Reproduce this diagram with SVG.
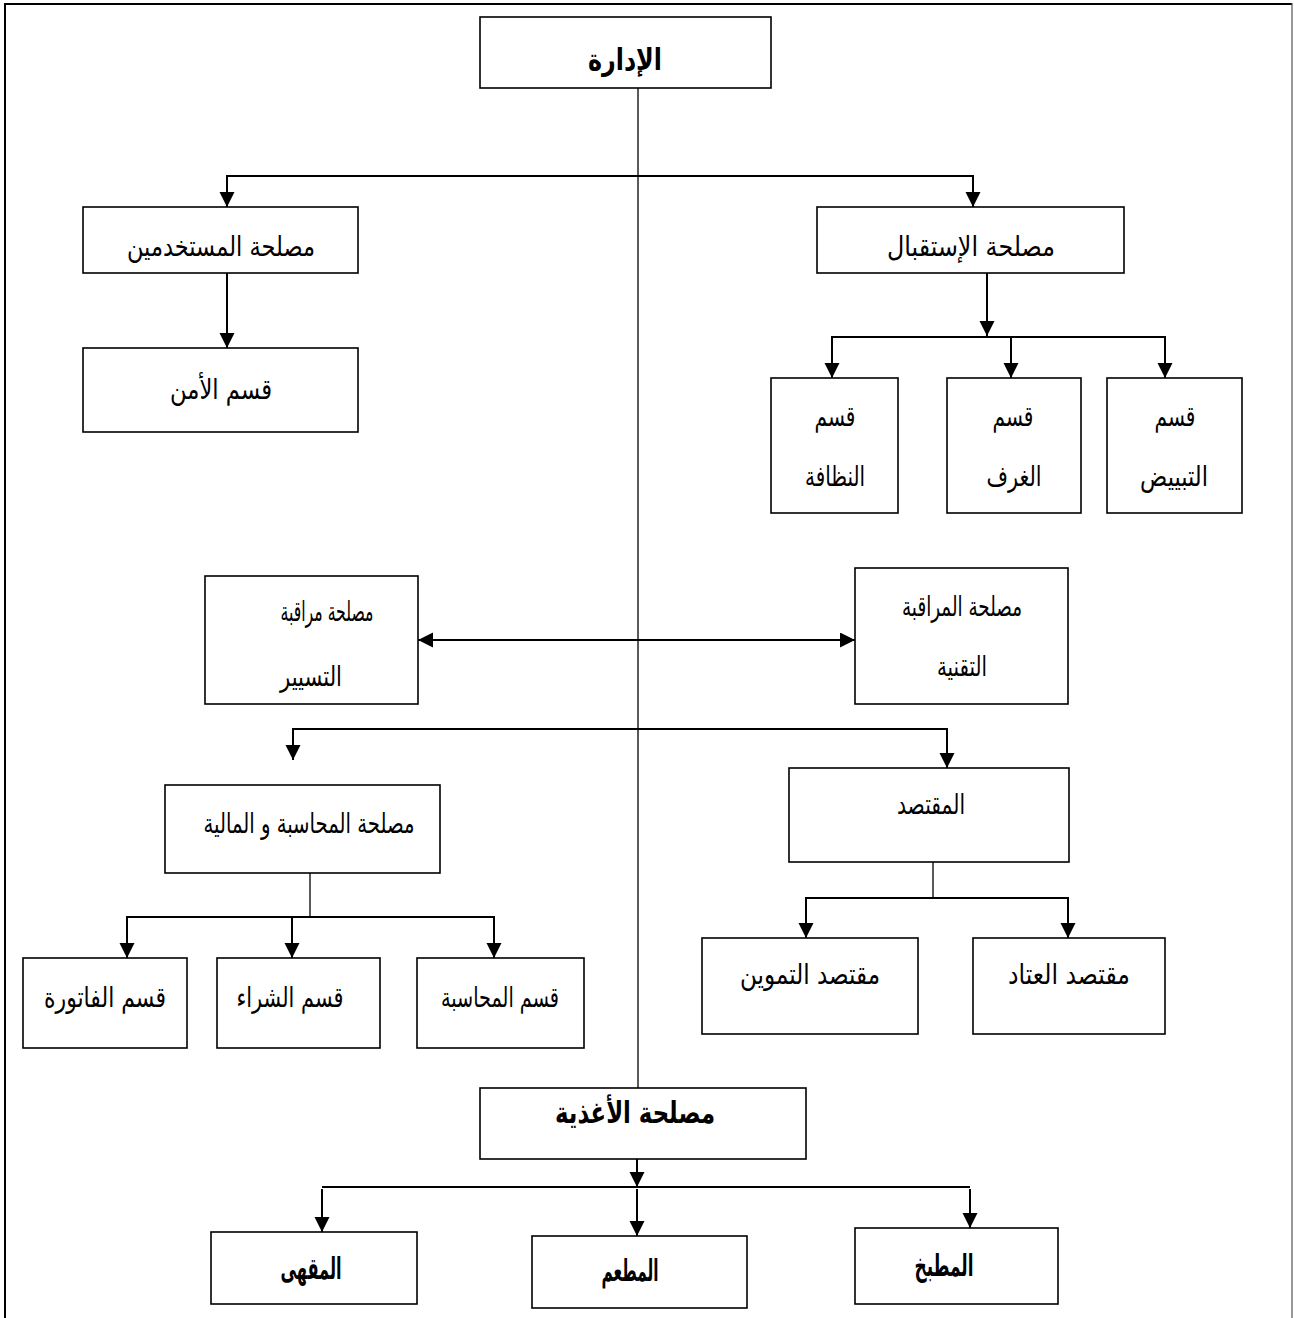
<svg xmlns="http://www.w3.org/2000/svg" width="1294" height="1318" viewBox="0 0 1294 1318">
  <style>
    .box { fill: #ffffff; stroke: #000000; stroke-width: 1.6; }
    .lbl { font-family: "DejaVu Sans", sans-serif; font-size: 28px; fill: #000000; text-anchor: middle; direction: rtl; }
    .bold { font-weight: bold; font-size: 30px; }
    .trunk { fill: none; stroke: #000000; stroke-width: 1.3; }
    .link { fill: none; stroke: #000000; stroke-width: 2; }
    .arrow { fill: none; stroke: #000000; stroke-width: 2; marker-end: url(#head); }
    .both { fill: none; stroke: #000000; stroke-width: 2; marker-start: url(#head); marker-end: url(#head); }
  </style>
  <defs>
    <marker id="head" markerUnits="userSpaceOnUse" markerWidth="16" markerHeight="16" refX="15" refY="7.5" orient="auto-start-reverse">
      <path d="M0,0 L15,7.5 L0,15 Z" fill="#000000"/>
    </marker>
  </defs>

  <!-- page frame (open at the bottom) -->
  <g id="frame">
    <line x1="5" y1="4" x2="1292" y2="4" stroke="#000" stroke-width="2.2"/>
    <line x1="5" y1="3" x2="5" y2="1318" stroke="#000" stroke-width="2"/>
    <line x1="1292" y1="3" x2="1292" y2="1318" stroke="#555" stroke-width="1.2"/>
  </g>

  <!-- connectors -->
  <g id="connectors">
    <path class="trunk" d="M638,88 V1088"/>
    <path class="arrow" d="M638,176 H227 V207"/>
    <path class="arrow" d="M638,176 H973 V207"/>
    <path class="arrow" d="M227,273 V348"/>
    <path class="arrow" d="M987,273 V336"/>
    <path class="arrow" d="M987,337 H832 V378"/>
    <path class="arrow" d="M987,337 H1011 V378"/>
    <path class="arrow" d="M987,337 H1165 V378"/>
    <path class="both" d="M418,640 H855"/>
    <path class="arrow" d="M638,729 H293 V760"/>
    <path class="arrow" d="M638,729 H947 V768"/>
    <path class="trunk" d="M310,873 V917"/>
    <path class="arrow" d="M310,917 H127 V958"/>
    <path class="arrow" d="M310,917 H292 V958"/>
    <path class="arrow" d="M310,917 H494 V958"/>
    <path class="trunk" d="M933,862 V898"/>
    <path class="arrow" d="M933,898 H806 V938"/>
    <path class="arrow" d="M933,898 H1068 V938"/>
    <path class="arrow" d="M637,1159 V1187"/>
    <path class="link" d="M322,1187 H970"/>
    <path class="arrow" d="M322,1189 V1232"/>
    <path class="arrow" d="M637,1189 V1236"/>
    <path class="arrow" d="M970,1189 V1228"/>
  </g>

  <g id="n-idara">
    <rect class="box" x="480" y="17" width="291" height="71"/>
    <text class="lbl bold" x="625" y="70" textLength="74" lengthAdjust="spacingAndGlyphs">الإدارة</text>
  </g>

  <g id="n-mustakhdimin">
    <rect class="box" x="83" y="207" width="275" height="66"/>
    <text class="lbl" x="221" y="256" textLength="188" lengthAdjust="spacingAndGlyphs">مصلحة المستخدمين</text>
  </g>
  <g id="n-amn">
    <rect class="box" x="83" y="348" width="275" height="84"/>
    <text class="lbl" x="221" y="399" textLength="102" lengthAdjust="spacingAndGlyphs">قسم الأمن</text>
  </g>

  <g id="n-istiqbal">
    <rect class="box" x="817" y="207" width="307" height="66"/>
    <text class="lbl" x="971" y="256" textLength="168" lengthAdjust="spacingAndGlyphs">مصلحة الإستقبال</text>
  </g>
  <g id="n-nadhafa">
    <rect class="box" x="771" y="378" width="127" height="135"/>
    <text class="lbl" x="835" y="426" textLength="41" lengthAdjust="spacingAndGlyphs">قسم</text>
    <text class="lbl" x="835" y="486" textLength="60" lengthAdjust="spacingAndGlyphs">النظافة</text>
  </g>
  <g id="n-ghuraf">
    <rect class="box" x="947" y="378" width="134" height="135"/>
    <text class="lbl" x="1013" y="426" textLength="41" lengthAdjust="spacingAndGlyphs">قسم</text>
    <text class="lbl" x="1014" y="486" textLength="55" lengthAdjust="spacingAndGlyphs">الغرف</text>
  </g>
  <g id="n-tabyid">
    <rect class="box" x="1107" y="378" width="135" height="135"/>
    <text class="lbl" x="1175" y="426" textLength="41" lengthAdjust="spacingAndGlyphs">قسم</text>
    <text class="lbl" x="1174" y="486" textLength="68" lengthAdjust="spacingAndGlyphs">التبييض</text>
  </g>

  <g id="n-taysir">
    <rect class="box" x="205" y="576" width="213" height="128"/>
    <text class="lbl" x="327" y="621" textLength="93" lengthAdjust="spacingAndGlyphs">مصلحة مراقبة</text>
    <text class="lbl" x="311" y="686" textLength="62" lengthAdjust="spacingAndGlyphs">التسيير</text>
  </g>
  <g id="n-taqniya">
    <rect class="box" x="855" y="568" width="213" height="136"/>
    <text class="lbl" x="962" y="616" textLength="120" lengthAdjust="spacingAndGlyphs">مصلحة المراقبة</text>
    <text class="lbl" x="962" y="676" textLength="50" lengthAdjust="spacingAndGlyphs">التقنية</text>
  </g>

  <g id="n-muhasaba-maliya">
    <rect class="box" x="165" y="785" width="275" height="88"/>
    <text class="lbl" x="309" y="833" textLength="211" lengthAdjust="spacingAndGlyphs">مصلحة المحاسبة و المالية</text>
  </g>
  <g id="n-fatura">
    <rect class="box" x="23" y="958" width="164" height="90"/>
    <text class="lbl" x="105" y="1007" textLength="122" lengthAdjust="spacingAndGlyphs">قسم الفاتورة</text>
  </g>
  <g id="n-shira">
    <rect class="box" x="217" y="958" width="163" height="90"/>
    <text class="lbl" x="290" y="1007" textLength="107" lengthAdjust="spacingAndGlyphs">قسم الشراء</text>
  </g>
  <g id="n-muhasaba">
    <rect class="box" x="417" y="958" width="167" height="90"/>
    <text class="lbl" x="500" y="1007" textLength="118" lengthAdjust="spacingAndGlyphs">قسم المحاسبة</text>
  </g>

  <g id="n-muqtasid">
    <rect class="box" x="789" y="768" width="280" height="94"/>
    <text class="lbl" x="931" y="814" textLength="68" lengthAdjust="spacingAndGlyphs">المقتصد</text>
  </g>
  <g id="n-tamwin">
    <rect class="box" x="702" y="938" width="216" height="96"/>
    <text class="lbl" x="810" y="984" textLength="140" lengthAdjust="spacingAndGlyphs">مقتصد التموين</text>
  </g>
  <g id="n-itad">
    <rect class="box" x="973" y="938" width="192" height="96"/>
    <text class="lbl" x="1069" y="984" textLength="122" lengthAdjust="spacingAndGlyphs">مقتصد العتاد</text>
  </g>

  <g id="n-aghdhiya">
    <rect class="box" x="480" y="1088" width="326" height="71"/>
    <text class="lbl bold" x="635" y="1123" textLength="160" lengthAdjust="spacingAndGlyphs">مصلحة الأغذية</text>
  </g>
  <g id="n-maqha">
    <rect class="box" x="211" y="1232" width="206" height="72"/>
    <text class="lbl bold" x="311" y="1279" textLength="61" lengthAdjust="spacingAndGlyphs">المقهى</text>
  </g>
  <g id="n-mataam">
    <rect class="box" x="532" y="1236" width="215" height="72"/>
    <text class="lbl bold" x="630" y="1281" textLength="57" lengthAdjust="spacingAndGlyphs">المطعم</text>
  </g>
  <g id="n-matbakh">
    <rect class="box" x="855" y="1228" width="203" height="76"/>
    <text class="lbl bold" x="944" y="1276" textLength="59" lengthAdjust="spacingAndGlyphs">المطبخ</text>
  </g>
</svg>
